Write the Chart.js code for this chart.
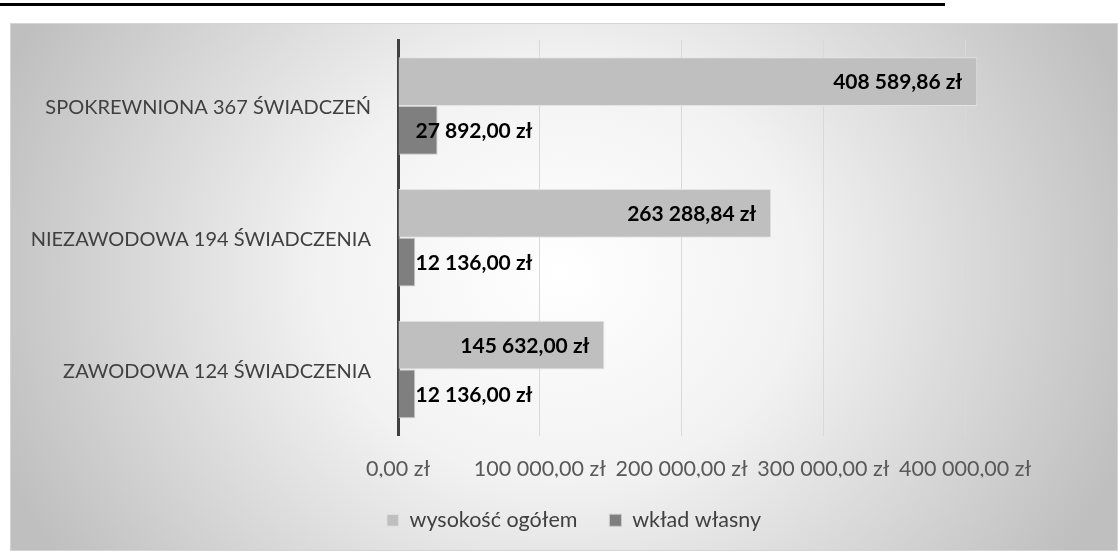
<!DOCTYPE html>
<html lang="pl">

<head>
    <meta charset="utf-8">
    <script src="https://cdn.jsdelivr.net/npm/chart.js"></script>
    <style>
        body { margin: 0; background: #fff; width: 1118px; height: 551px; overflow: hidden; position: relative; }
        #rule { position: absolute; left: 0; top: 3px; width: 945px; height: 3px; background: #000; }
        #box {
            position: absolute; left: 10px; top: 23px; width: 1108px; height: 528px;
            background: radial-gradient(600px 520px at 550px 250px, #ffffff 0%, #f2f2f2 40%, #bfbfbf 100%);
            box-shadow: inset 0 0 0 1px #d4d4d4;
        }
    </style>
</head>

<body>
    <div id="rule"></div>
    <div id="box"><canvas id="barChart"></canvas></div>

    <script>
        const categories = ["SPOKREWNIONA 367 ŚWIADCZEŃ", "NIEZAWODOWA 194 ŚWIADCZENIA", "ZAWODOWA 124 ŚWIADCZENIA"];
        const wysokoscOgolem = [408589.86, 263288.84, 145632.00];
        const wkladWlasny = [27892.00, 12136.00, 12136.00];
        const tickValues = [0, 100000, 200000, 300000, 400000];

        // 408 589,86 zł
        function zl(v) {
            const parts = v.toFixed(2).split(".");
            return parts[0].replace(/\B(?=(\d{3})+(?!\d))/g, " ") + "," + parts[1] + " zł";
        }

        const valueLabels = {
            id: "valueLabels",
            afterLayout(chart) {
                // legend sits centred a bit right of the canvas middle
                chart.legend.left += 51;
                chart.legend.right += 51;
            },
            afterDatasetsDraw(chart) {
                const ctx = chart.ctx;
                ctx.save();
                ctx.font = "bold 21px Lato";
                ctx.fillStyle = "#000";
                ctx.textBaseline = "middle";
                ctx.textAlign = "left";
                chart.data.datasets.forEach((ds, i) => {
                    chart.getDatasetMeta(i).data.forEach((bar, j) => {
                        const txt = zl(ds.data[j]);
                        const w = ctx.measureText(txt).width;
                        const x = Math.max(bar.x - 15 - w, bar.base + 17);
                        ctx.fillText(txt, x, bar.y + 1);
                    });
                });
                ctx.restore();
            }
        };

        const ctx = document.getElementById("barChart").getContext("2d");
        const chart = new Chart(ctx, {
            type: "bar",
            data: {
                labels: categories,
                datasets: [{
                    label: "wysokość ogółem",
                    data: wysokoscOgolem,
                    backgroundColor: "#bfbfbf",
                    borderColor: "#e4e4e4",
                    borderWidth: 1
                }, {
                    label: "wkład własny",
                    data: wkladWlasny,
                    backgroundColor: "#7f7f7f",
                    borderColor: "#c8c8c8",
                    borderWidth: 1
                }]
            },
            options: {
                indexAxis: "y",
                responsive: true,
                maintainAspectRatio: false,
                animation: false,
                datasets: {
                    bar: { categoryPercentage: 0.74, barPercentage: 1 }
                },
                layout: {
                    padding: { top: 17, right: 82, bottom: 10, left: 0 }
                },
                scales: {
                    x: {
                        min: 0,
                        max: 450000,
                        ticks: {
                            stepSize: 100000,
                            padding: 21,
                            color: "#595959",
                            font: { family: "Lato", size: 21.5 },
                            maxRotation: 0,
                            callback: (v) => zl(v)
                        },
                        afterBuildTicks: (scale) => {
                            scale.ticks = tickValues.map(v => ({ value: v }));
                        },
                        afterFit: (scale) => {
                            scale.height = 42;
                            scale.paddingLeft = 0;
                            scale.paddingRight = 0;
                        },
                        grid: { color: "#d9d9d9", drawTicks: false },
                        border: { display: false }
                    },
                    y: {
                        ticks: {
                            padding: 27,
                            labelOffset: 2,
                            color: "#404040",
                            font: { family: "Lato", size: 20 }
                        },
                        afterFit: (scale) => {
                            scale.width = 388;
                            scale.paddingTop = 0;
                            scale.paddingBottom = 0;
                        },
                        grid: { display: false, drawTicks: false },
                        border: { color: "#404040", width: 3 }
                    }
                },
                plugins: {
                    legend: {
                        position: "bottom",
                        labels: {
                            boxWidth: 12,
                            boxHeight: 12,
                            padding: 32,
                            color: "#404040",
                            font: { family: "Lato", size: 21.5 }
                        }
                    },
                    tooltip: { enabled: false }
                }
            },
            plugins: [valueLabels]
        });
    </script>
</body>

</html>
